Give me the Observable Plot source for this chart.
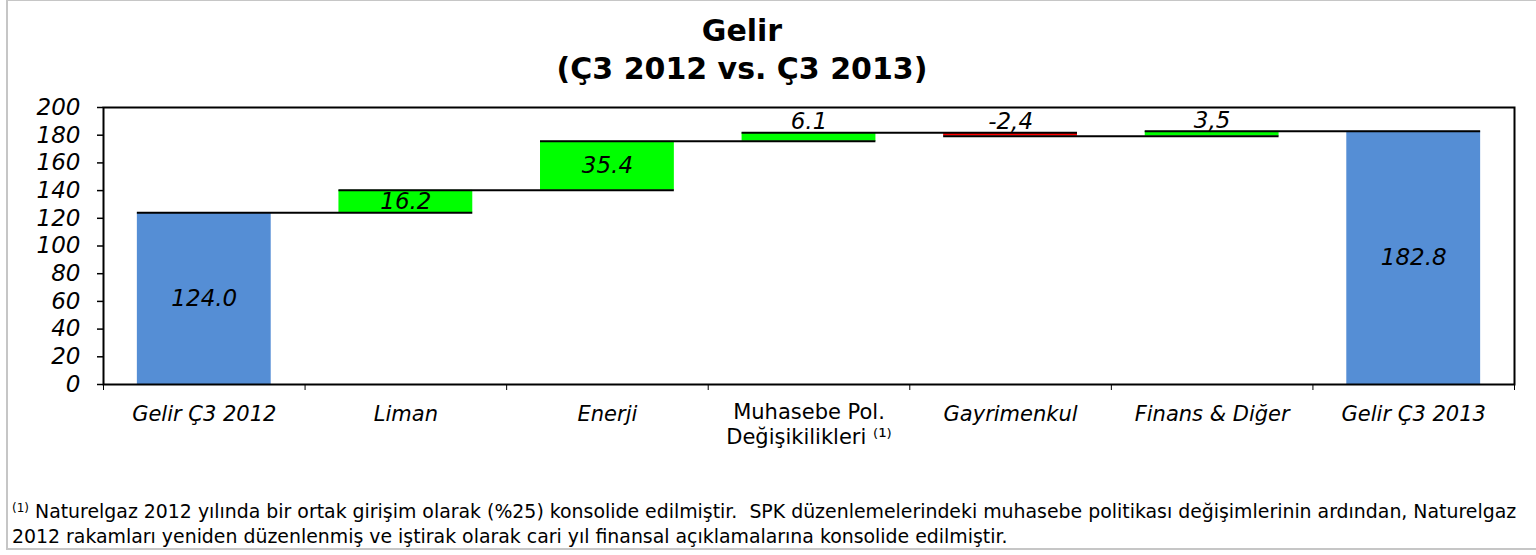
<!DOCTYPE html>
<html>
<head>
<meta charset="utf-8">
<script src="https://cdn.jsdelivr.net/npm/d3@7"></script>
<script src="https://cdn.jsdelivr.net/npm/@observablehq/plot@0.6"></script>
<style>
  html, body { margin: 0; padding: 0; background: #fff; }
  body { width: 1536px; height: 555px; position: relative; overflow: hidden; font-family: "DejaVu Sans", Verdana, sans-serif; color: #000; }
  #border { position: absolute; left: 6px; top: -1px; width: 1540px; height: 551px; border: 2px solid #c6c6c6; box-sizing: border-box; z-index: 5; pointer-events: none; }
  #title { position: absolute; left: 442px; width: 600px; top: 12px; text-align: center; font-weight: bold; font-size: 30px; line-height: 38px; }
  #chart { position: absolute; left: 0; top: 90px; }
  #chart svg { background: transparent !important; }
  #foot { position: absolute; left: 12px; top: 501px; font-size: 18.9px; line-height: 21.7px; white-space: nowrap; }
  #foot .sup { font-size: 12px; position: relative; top: -6px; }
</style>
</head>
<body>
<div id="border"></div>
<div id="title">Gelir<br>(Ç3 2012 vs. Ç3 2013)</div>
<div id="chart"></div>
<div id="foot">
  <div><span class="sup">(1)</span> Naturelgaz 2012 yılında bir ortak girişim olarak (%25) konsolide edilmiştir.&nbsp; SPK düzenlemelerindeki muhasebe politikası değişimlerinin ardından, Naturelgaz</div>
  <div>2012 rakamları yeniden düzenlenmiş ve iştirak olarak cari yıl finansal açıklamalarına konsolide edilmiştir.</div>
</div>
<script>
const categories = ["Gelir Ç3 2012", "Liman", "Enerji", "Muhasebe Pol.\nDeğişikilikleri ⁽¹⁾", "Gayrimenkul", "Finans & Diğer", "Gelir Ç3 2013"];
const kinds = ["total", "delta", "delta", "delta", "delta", "delta", "total"];
const values = [124.0, 16.2, 35.4, 6.1, -2.4, 3.5, 182.8];
const valueLabels = ["124.0", "16.2", "35.4", "6.1", "-2,4", "3,5", "182.8"];
const yTicks = [0, 20, 40, 60, 80, 100, 120, 140, 160, 180, 200];

const pad = 0.168;
let cum = 0;
const bars = categories.map((cat, i) => {
  let y1, y2;
  if (kinds[i] === "total") { y1 = 0; y2 = values[i]; }
  else { y1 = cum; y2 = cum + values[i]; }
  cum = y2;
  const fill = kinds[i] === "total" ? "#558ED5" : (values[i] >= 0 ? "#00FF00" : "#FF0000");
  return { i, cat, y1, y2, end: y2, top: Math.max(y1, y2), mid: (y1 + y2) / 2,
           value: values[i], label: valueLabels[i], fill,
           x1: i + pad, x2: i + 1 - pad, xc: i + 0.5 };
});
const connectors = bars.slice(0, -1).map((b, i) => ({ level: b.end, x1: i + pad, x2: i + 2 - pad }));
const bigBars = bars.filter(b => Math.abs(b.value) >= 10);
const smallBars = bars.filter(b => Math.abs(b.value) < 10);
const italicCats = bars.filter(b => b.i !== 3);
const plainCats = bars.filter(b => b.i === 3);

const chart = Plot.plot({
  width: 1536,
  height: 370,
  marginLeft: 103,
  marginRight: 22,
  marginTop: 17,
  marginBottom: 76,
  style: { fontFamily: "DejaVu Sans, Verdana, sans-serif", color: "black", background: "transparent", overflow: "visible" },
  x: { type: "linear", domain: [0, categories.length] },
  y: { domain: [0, 200] },
  marks: [
    Plot.rect(bars, { x1: "x1", x2: "x2", y1: "y1", y2: "y2", fill: "fill" }),
    Plot.ruleY(connectors, { y: "level", x1: "x1", x2: "x2", stroke: "black", strokeWidth: 2 }),
    Plot.frame({ stroke: "black", strokeWidth: 2 }),
    Plot.axisY({ ticks: yTicks, tickSize: 6, tickFormat: () => "", label: null, strokeWidth: 1.5 }),
    Plot.text(yTicks, { y: d => d, text: d => String(d), frameAnchor: "left", dx: -23, textAnchor: "end", fontSize: 23, fontStyle: "italic", fill: "black" }),
    Plot.axisX({ ticks: d3.range(0, categories.length + 1), tickSize: 6, tickFormat: () => "", label: null, strokeWidth: 1 }),
    Plot.text(bigBars, { x: "xc", y: "mid", text: "label", fontSize: 23, fontStyle: "italic", fill: "black" }),
    Plot.text(smallBars, { x: "xc", y: "top", text: "label", fontSize: 23, fontStyle: "italic", fill: "black", dy: -11 }),
    Plot.text(italicCats, { x: "xc", y: () => 0, text: "cat", fontSize: 21, fontStyle: "italic", fill: "black", lineAnchor: "top", dy: 22 }),
    Plot.text(plainCats, { x: "xc", y: () => 0, text: "cat", fontSize: 21, fill: "black", lineAnchor: "top", dy: 17, lineHeight: 1.19 })
  ]
});
document.getElementById("chart").appendChild(chart);
</script>
</body>
</html>
